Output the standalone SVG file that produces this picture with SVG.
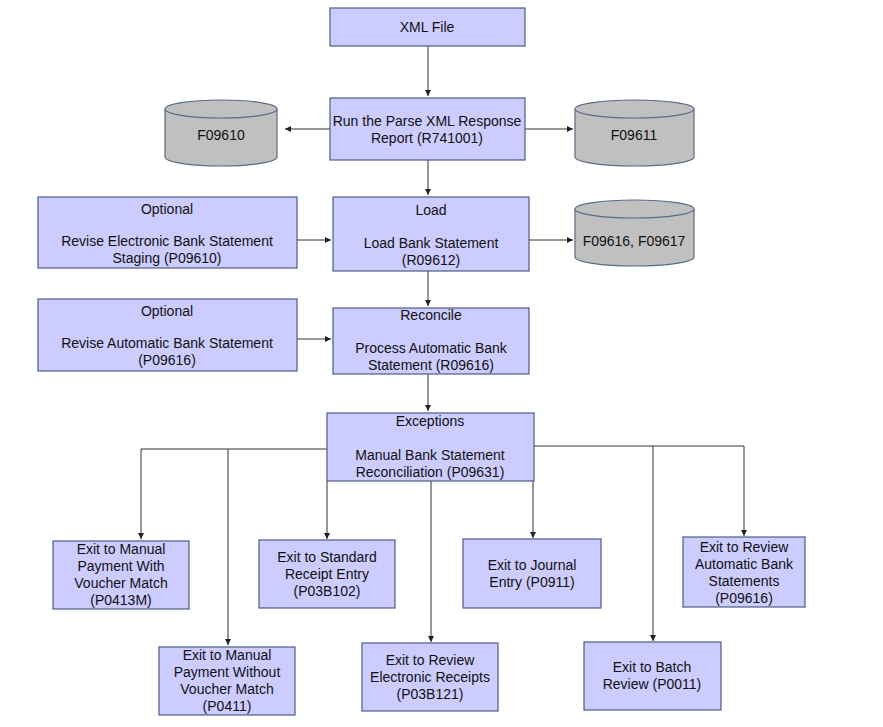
<svg xmlns="http://www.w3.org/2000/svg" width="883" height="727" viewBox="0 0 883 727">
<defs>
<marker id="ah" markerWidth="8" markerHeight="8" refX="6" refY="3" orient="auto" markerUnits="userSpaceOnUse">
<path d="M0,0 L6,3 L0,6 Z" fill="#222"/>
</marker>
<style>
.box{fill:#ccccff;stroke:#4d5b86;stroke-width:1.2}
.db{fill:#c0c0c0;stroke:#5b6b82;stroke-width:1.2}
.t{font-family:"Liberation Sans",Arial,sans-serif;font-size:14px;fill:#111;text-anchor:middle;dominant-baseline:central}
.c{fill:none;stroke:#333;stroke-width:1}
.a{fill:none;stroke:#333;stroke-width:1;marker-end:url(#ah)}
</style>
</defs>
<rect width="883" height="727" fill="#fff"/>
<g id="connectors">
<path class="a" d="M428,46 V96"/>
<path class="a" d="M330,129 H285"/>
<path class="a" d="M525,129 H573"/>
<path class="a" d="M428,160 V195"/>
<path class="a" d="M297,240 H331"/>
<path class="a" d="M529,240 H573"/>
<path class="a" d="M428,271 V306"/>
<path class="a" d="M297,339 H331"/>
<path class="a" d="M428,374 V411"/>
<path class="c" d="M327,449 H141"/>
<path class="a" d="M141,449 V539"/>
<path class="a" d="M228,449 V645"/>
<path class="a" d="M327,481 V539"/>
<path class="a" d="M431,481 V642"/>
<path class="a" d="M533,481 V538"/>
<path class="c" d="M534,446 H744"/>
<path class="a" d="M653,446 V641"/>
<path class="a" d="M744,446 V536"/>
</g>
<g id="xml-file"><rect class="box" x="330" y="8" width="195" height="38"/><text class="t" x="427" y="27">XML File</text></g>
<g id="parse-report"><rect class="box" x="330" y="98" width="195" height="62"/><text class="t" x="427" y="121">Run the Parse XML Response</text><text class="t" x="427" y="138">Report (R741001)</text></g>
<g id="f09610"><path class="db" d="M165,109 A56,9 0 0 1 277,109 V157 A56,9 0 0 1 165,157 Z"/><path class="db" d="M165,109 A56,9 0 0 0 277,109" fill="none"/><text class="t" x="221" y="135">F09610</text></g>
<g id="f09611"><path class="db" d="M575,109 A59.5,9 0 0 1 694,109 V157 A59.5,9 0 0 1 575,157 Z"/><path class="db" d="M575,109 A59.5,9 0 0 0 694,109" fill="none"/><text class="t" x="634" y="135">F09611</text></g>
<g id="optional-staging"><rect class="box" x="38" y="197" width="259" height="71"/><text class="t" x="167" y="209">Optional</text><text class="t" x="167" y="241">Revise Electronic Bank Statement</text><text class="t" x="167" y="258">Staging (P09610)</text></g>
<g id="load"><rect class="box" x="333" y="197" width="196" height="74"/><text class="t" x="431" y="210">Load</text><text class="t" x="431" y="243">Load Bank Statement</text><text class="t" x="431" y="260">(R09612)</text></g>
<g id="f09616"><path class="db" d="M575,209 A59.5,9 0 0 1 694,209 V257 A59.5,9 0 0 1 575,257 Z"/><path class="db" d="M575,209 A59.5,9 0 0 0 694,209" fill="none"/><text class="t" x="634" y="241">F09616, F09617</text></g>
<g id="optional-revise"><rect class="box" x="38" y="299" width="259" height="72"/><text class="t" x="167" y="311">Optional</text><text class="t" x="167" y="343">Revise Automatic Bank Statement</text><text class="t" x="167" y="360">(P09616)</text></g>
<g id="reconcile"><rect class="box" x="333" y="308" width="196" height="66"/><text class="t" x="431" y="315">Reconcile</text><text class="t" x="431" y="348">Process Automatic Bank</text><text class="t" x="431" y="365">Statement (R09616)</text></g>
<g id="exceptions"><rect class="box" x="327" y="413" width="207" height="68"/><text class="t" x="430" y="421">Exceptions</text><text class="t" x="430" y="455">Manual Bank Statement</text><text class="t" x="430" y="472">Reconciliation (P09631)</text></g>
<g id="manual-with"><rect class="box" x="53" y="541" width="136" height="68"/><text class="t" x="121" y="549">Exit to Manual</text><text class="t" x="121" y="566">Payment With</text><text class="t" x="121" y="583">Voucher Match</text><text class="t" x="121" y="600">(P0413M)</text></g>
<g id="standard-receipt"><rect class="box" x="259" y="540" width="136" height="68"/><text class="t" x="327" y="557">Exit to Standard</text><text class="t" x="327" y="574">Receipt Entry</text><text class="t" x="327" y="591">(P03B102)</text></g>
<g id="journal-entry"><rect class="box" x="463" y="539" width="138" height="69"/><text class="t" x="532" y="565">Exit to Journal</text><text class="t" x="532" y="582">Entry (P0911)</text></g>
<g id="review-auto"><rect class="box" x="683" y="537" width="122" height="70"/><text class="t" x="744" y="547">Exit to Review</text><text class="t" x="744" y="564">Automatic Bank</text><text class="t" x="744" y="581">Statements</text><text class="t" x="744" y="598">(P09616)</text></g>
<g id="manual-without"><rect class="box" x="159" y="647" width="136" height="68"/><text class="t" x="227" y="655">Exit to Manual</text><text class="t" x="227" y="672">Payment Without</text><text class="t" x="227" y="689">Voucher Match</text><text class="t" x="227" y="706">(P0411)</text></g>
<g id="review-electronic"><rect class="box" x="362" y="643" width="136" height="68"/><text class="t" x="430" y="660">Exit to Review</text><text class="t" x="430" y="677">Electronic Receipts</text><text class="t" x="430" y="694">(P03B121)</text></g>
<g id="batch-review"><rect class="box" x="584" y="642" width="137" height="68"/><text class="t" x="652" y="667">Exit to Batch</text><text class="t" x="652" y="684">Review (P0011)</text></g>
</svg>
